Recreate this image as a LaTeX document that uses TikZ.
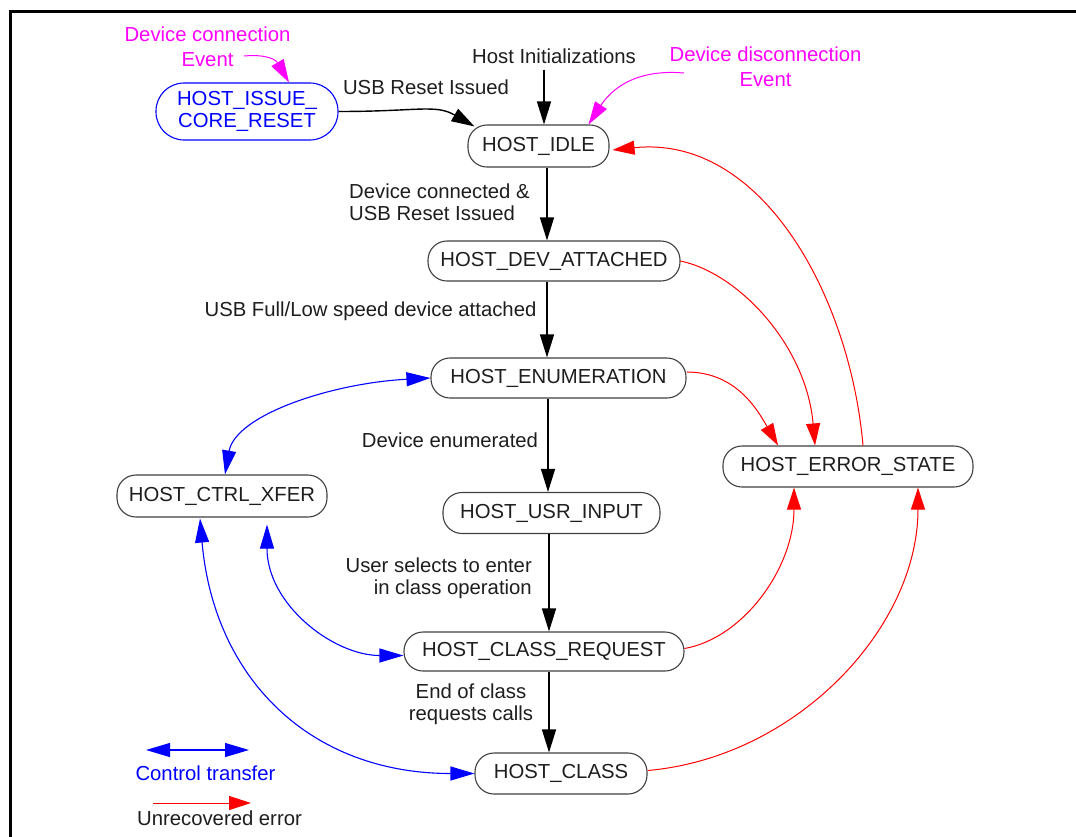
\documentclass[tikz,border=0pt]{standalone}
\usepackage{fontspec}
\setmainfont{Liberation Sans}
\usetikzlibrary{arrows.meta}
\definecolor{mag}{RGB}{255,0,255}
\definecolor{blu}{RGB}{0,0,255}
\definecolor{rd}{RGB}{255,0,0}
\definecolor{ink}{RGB}{30,30,30}
\begin{document}
\begin{tikzpicture}[x=1pt,y=-1pt,
  every node/.style={font=\fontsize{20.3}{22}\selectfont, text=ink, inner sep=0pt},
  state/.style={draw=black!75, line width=1.1pt, rounded corners=19pt, minimum height=40pt, fill=white},
  blk/.style={draw=black, line width=1.4pt, -{Triangle[length=23pt,width=14pt]}},
  redarrow/.style={draw=rd, line width=1pt, -{Triangle[length=22pt,width=14pt]}},
  magarrow/.style={draw=mag, line width=1pt, -{Triangle[length=23pt,width=14pt]}},
  ctlarrow/.style={draw=blu, line width=1.1pt, {Triangle[length=24pt,width=14pt]}-{Triangle[length=24pt,width=14pt]}},
  twoline/.style={font=\fontsize{20.3}{22}\selectfont},
  magline/.style={font=\fontsize{20.3}{25}\selectfont, text=mag, align=center}
]
\useasboundingbox (0,0) rectangle (1076,836);
\fill[white] (0,0) rectangle (1076,836);
% frame
\draw[line width=2.5pt] (10.3,840) -- (10.3,11.7) -- (1080,11.7);

% states
\node[draw=blu, text=blu, line width=1.1pt, rounded corners=28pt, minimum height=57pt, minimum width=182pt, align=center, fill=white] (issue) at (247,111.5) {HOST\_ISSUE\_\\CORE\_RESET};
\node[state, minimum width=141pt, minimum height=42pt] (idle) at (538.5,146) {HOST\_IDLE};
\node[state, minimum width=252pt] (dev) at (554,261) {HOST\_DEV\_ATTACHED};
\node[state, minimum width=255pt] (enum) at (558.5,378) {HOST\_ENUMERATION};
\node[state, minimum width=250pt, minimum height=41pt] (err) at (848,466.5) {HOST\_ERROR\_STATE};
\node[state, minimum width=210pt, minimum height=42pt] (ctrl) at (222,496) {HOST\_CTRL\_XFER};
\node[state, minimum width=217pt, minimum height=41pt] (usr) at (551.5,513) {HOST\_USR\_INPUT};
\node[state, minimum width=280pt, minimum height=39pt] (req) at (544,651.5) {HOST\_CLASS\_REQUEST};
\node[state, minimum width=172pt, minimum height=41pt] (cls) at (561,773.5) {HOST\_CLASS};

% labels
\node[magline] (dconn) at (207.5,46.5) {Device connection\\Event};
\node (hinit) at (554,56) {Host Initializations};
\node[magline] (ddis) at (765.5,66.5) {Device disconnection\\Event};
\node (lrst) at (426,87) {USB Reset Issued};
\node[twoline, align=left, anchor=west] (ldc) at (349,202) {Device connected \&\\USB Reset Issued};
\node (lfull) at (370.5,311) {USB Full/Low speed device attached};
\node (lenum) at (450,440) {Device enumerated};
\node[twoline, align=right, anchor=east] (lsel) at (532,578) {User selects to enter\\in class operation};
\node[twoline, align=center] (lend) at (471,704) {End of class\\requests calls};

% free ends
\coordinate (dcs) at (244,56);
\coordinate (dds) at (684,73);

% black transitions
\draw[blk, shorten <=6pt] ([xshift=-10pt]hinit.south) -- ([xshift=5.5pt]idle.north);
\draw[blk] (issue.east) .. controls +(0:80) and +(210:45) .. ([xshift=7pt,yshift=-2pt]idle.north west);
\draw[blk] ([xshift=8.5pt]idle.south) -- ([xshift=-7pt]dev.north);
\draw[blk] ([xshift=-7pt]dev.south) -- ([xshift=-11.5pt]enum.north);
\draw[blk] ([xshift=-10.5pt]enum.south) -- ([xshift=-3.5pt]usr.north);
\draw[blk] ([xshift=-2.5pt]usr.south) -- ([xshift=5pt]req.north);
\draw[blk] ([xshift=5pt]req.south) -- ([xshift=-12pt]cls.north);

% events
\draw[magarrow] (dcs) .. controls +(-5:25) and +(240:25) .. ([xshift=42pt]issue.north);
\draw[magarrow] (dds) .. controls +(185:55) and +(303:35) .. ([xshift=50pt]idle.north);

% errors
\draw[redarrow] (dev.east) .. controls +(12:60) and +(265:100) .. ([xshift=-33pt]err.north);
\draw[redarrow] ([yshift=6pt]enum.east) .. controls +(0:50) and +(240:40) .. ([xshift=-70pt]err.north);
\draw[redarrow] ([xshift=15pt]err.north) .. controls +(265:150) and +(354:150) .. ([xshift=3pt,yshift=-4pt]idle.east);
\draw[redarrow] ([yshift=3pt]req.east) .. controls +(350:60) and +(90:80) .. ([xshift=-54pt]err.south);
\draw[redarrow] ([yshift=3pt]cls.east) .. controls +(355:150) and +(90:140) .. ([xshift=70pt]err.south);

% control transfers
\draw[ctlarrow] (enum.west) .. controls +(177:100) and +(280:60) .. ([xshift=3pt]ctrl.north);
\draw[ctlarrow] ([xshift=-22pt,yshift=-1pt]ctrl.south) .. controls +(85:160) and +(180:165) .. (cls.west);
\draw[ctlarrow] ([xshift=45pt,yshift=-7pt]ctrl.south) .. controls +(90:80) and +(180:70) .. ([yshift=-4pt]req.west);

% legend
\coordinate (lb1) at (146,750);
\coordinate (lb2) at (249,750);
\draw[ctlarrow] (lb1) -- (lb2);
\node[text=blu] (lgc) at (205.5,773) {Control transfer};
\coordinate (lr1) at (153,803);
\coordinate (lr2) at (251,803);
\draw[redarrow] (lr1) -- (lr2);
\node (lgu) at (219.5,818) {Unrecovered error};
\end{tikzpicture}
\end{document}
